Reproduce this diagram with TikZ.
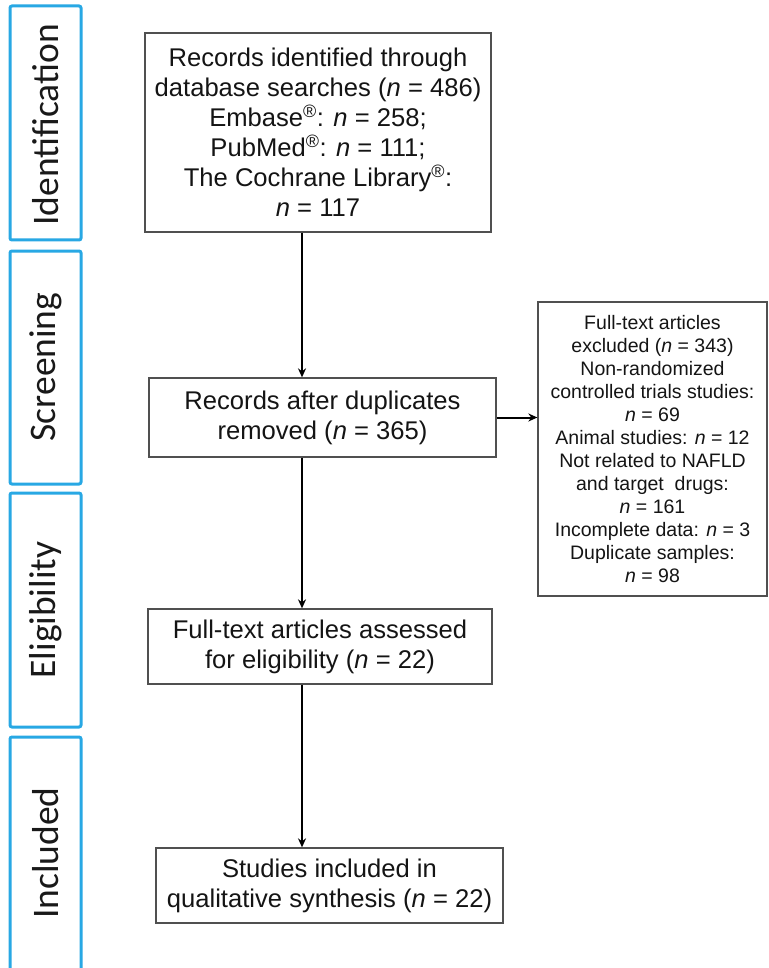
\documentclass[tikz,border=0pt]{standalone}
\usepackage{fontspec}
\setmainfont{Liberation Sans}
\newfontfamily\sidefont{Carlito}
\usetikzlibrary{arrows.meta}
\definecolor{phaseblue}{RGB}{40,168,228}
\definecolor{boxgray}{RGB}{80,80,80}
\tikzset{
  phase/.style={draw=phaseblue, line width=3pt, rounded corners=2pt},
  phaselabel/.style={rotate=90, font=\sidefont\fontsize{37.5}{40}\selectfont, text=black!90},
  flowbox/.style={draw=boxgray, line width=1.3pt, align=center, inner sep=0pt,
     font=\fontsize{25.6}{30}\selectfont, text=black!92},
  smallbox/.style={draw=boxgray, line width=1.3pt, align=center, inner sep=0pt,
     font=\fontsize{19.5}{23}\selectfont, text=black!92},
  arr/.style={line width=2pt, -{Stealth[length=9pt,width=8pt]}}
}
\begin{document}
\begin{tikzpicture}[x=1pt,y=-1pt]
\useasboundingbox (0,0) rectangle (768,968);
\clip (0,0) rectangle (768,968);
% phase boxes
\draw[phase] (10,6) rectangle (81,240);
\draw[phase] (10,251) rectangle (81,484);
\draw[phase] (10,493) rectangle (81,727);
\draw[phase] (10,737) rectangle (81,990);
\node[phaselabel] (pid) at (45.5,125) {Identification};
\node[phaselabel] (psc) at (45.5,367) {Screening};
\node[phaselabel] (pel) at (45.5,610) {Eligibility};
\node[phaselabel] (pin) at (45.5,853) {Included};
% flow boxes
\node[flowbox, minimum width=346pt, minimum height=199pt] (b1) at (318,132.5)
  {Records identified through\\database searches (\textit{n} = 486)\\Embase\textsuperscript{®}: \textit{n} = 258;\\PubMed\textsuperscript{®}: \textit{n} = 111;\\The Cochrane Library\textsuperscript{®}:\\\textit{n} = 117};
\node[flowbox, minimum width=347pt, minimum height=79pt] (b2) at (322.5,417.5)
  {Records after duplicates\\removed (\textit{n} = 365)};
\node[smallbox, minimum width=229pt, minimum height=294pt] (b3) at (652.5,449)
  {Full-text articles\\excluded (\textit{n} = 343)\\Non-randomized\\controlled trials studies:\\\textit{n} = 69\\Animal studies: \textit{n} = 12\\Not related to NAFLD\\and target\ \ drugs:\\\textit{n} = 161\\Incomplete data: \textit{n} = 3\\Duplicate samples:\\\textit{n} = 98};
\node[flowbox, minimum width=344pt, minimum height=75pt] (b4) at (320,646.5)
  {Full-text articles assessed\\for eligibility (\textit{n} = 22)};
\node[flowbox, minimum width=347pt, minimum height=75pt] (b5) at (329.5,885.5)
  {Studies included in\\qualitative synthesis (\textit{n} = 22)};
% connectors
\coordinate (xa) at (302,0);
\draw[arr] (b1.south -| xa) -- (b2.north -| xa);
\draw[arr] (b2.south -| xa) -- (b4.north -| xa);
\draw[arr] (b4.south -| xa) -- (b5.north -| xa);
\draw[arr] (b2.east) -- (b3.west |- b2.east);
\end{tikzpicture}
\end{document}
